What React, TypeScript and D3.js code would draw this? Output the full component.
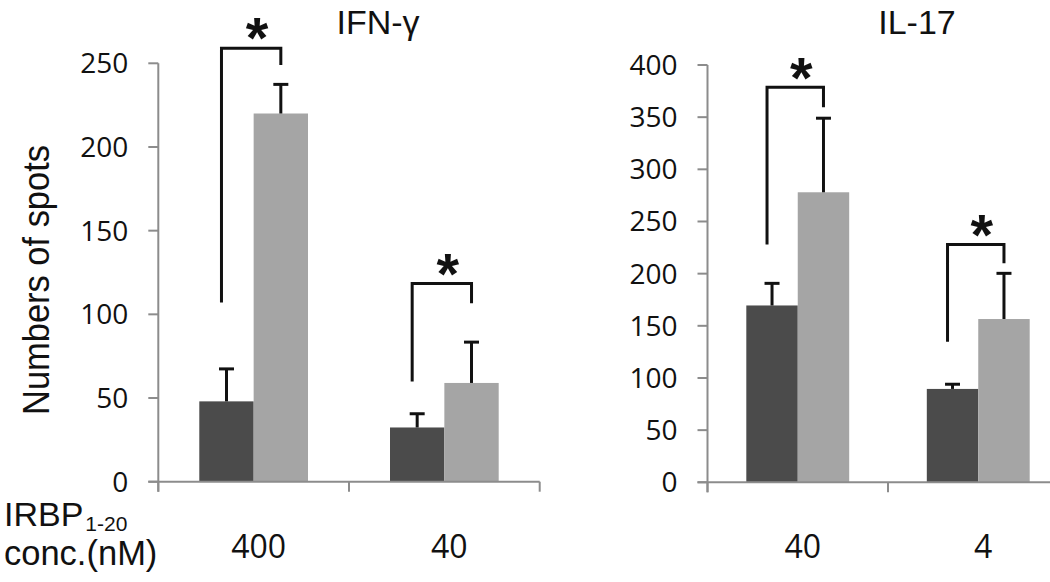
import React from "react";
import * as d3 from "d3";

// ---- data ----
const ifnCategories = ["400", "40"];
const ifnDark = [48, 32.4];
const ifnDarkErr = [19.4, 8.2];
const ifnLight = [220, 59];
const ifnLightErr = [17.4, 24.4];
const ifnTicks = [0, 50, 100, 150, 200, 250];
// significance brackets: [leftLegBottom, top, rightLegBottom] in data units
const ifnBrackets = [
  [107, 259, 249],
  [59.8, 118.5, 106.6],
];

const il17Categories = ["40", "4"];
const il17Dark = [169.5, 89.5];
const il17DarkErr = [21.2, 4.5];
const il17Light = [278, 156.5];
const il17LightErr = [71, 43.8];
const il17Ticks = [0, 50, 100, 150, 200, 250, 300, 350, 400];
const il17Brackets = [
  [228, 378.6, 359.5],
  [134.8, 228, 210],
];

const titles = ["IFN-γ", "IL-17"];

// ---- style ----
const W = 1050;
const H = 582;
const NUM_FONT = "'Open Sans', sans-serif";
const TXT_FONT = "'Liberation Sans', Arial, sans-serif";
const DARK = "#4b4b4b";
const LIGHT = "#a5a5a5";
const AXIS = "#8c8c8c";
const INK = "#111111";

type PanelProps = {
  title: string;
  categories: string[];
  dark: number[];
  darkErr: number[];
  light: number[];
  lightErr: number[];
  ticks: number[];
  brackets: number[][];
  xRange: [number, number];
  yRange: [number, number];
  yMax: number;
};

function Panel(p: PanelProps) {
  const x = d3.scaleBand<string>().domain(p.categories).range(p.xRange).padding(0);
  const bw = x.bandwidth();
  const sub = d3
    .scaleBand<string>()
    .domain(["dark", "light"])
    .range([bw * 0.215, bw * 0.785])
    .padding(0);
  const y = d3.scaleLinear().domain([0, p.yMax]).range(p.yRange);
  const x0 = p.xRange[0];
  const x1 = p.xRange[1];
  const y0 = y(0);
  const sw = sub.bandwidth();
  const center = (c: string, s: string) => (x(c) as number) + (sub(s) as number) + sw / 2;
  const series = [
    { key: "dark", vals: p.dark, errs: p.darkErr, color: DARK },
    { key: "light", vals: p.light, errs: p.lightErr, color: LIGHT },
  ];
  const boundaries = [...p.categories.map((c) => x(c) as number), x1];
  const starSize = 58;

  return (
    <g>
      {/* title */}
      <text
        x={(x0 + x1) / 2 + 29}
        y={34}
        textAnchor="middle"
        fontFamily={TXT_FONT}
        fontSize={34}
        fill={INK}
      >
        {p.title}
      </text>

      {/* bars */}
      {series.map((s) =>
        p.categories.map((c, i) => (
          <rect
            key={s.key + c}
            x={(x(c) as number) + (sub(s.key) as number)}
            width={sw}
            y={y(s.vals[i])}
            height={y0 - y(s.vals[i])}
            fill={s.color}
          />
        ))
      )}

      {/* axes */}
      <line x1={x0} x2={x0} y1={y(p.yMax)} y2={y0 + 10} stroke={AXIS} strokeWidth={2} />
      <line x1={x0 - 10} x2={x1} y1={y0} y2={y0} stroke={AXIS} strokeWidth={2} />
      {p.ticks.map((t) => (
        <g key={"t" + t}>
          <line x1={x0 - 10} x2={x0} y1={y(t)} y2={y(t)} stroke={AXIS} strokeWidth={2} />
          <text
            x={x0 - 30}
            y={y(t) + 10}
            textAnchor="end"
            fontFamily={NUM_FONT}
            fontSize={28}
            fill={INK}
          >
            {t}
          </text>
        </g>
      ))}
      {boundaries.map((b, i) => (
        <line key={"b" + i} x1={b} x2={b} y1={y0} y2={y0 + 10} stroke={AXIS} strokeWidth={2} />
      ))}
      {p.categories.map((c) => (
        <text
          key={"c" + c}
          x={(x(c) as number) + bw / 2 + 5}
          y={558}
          textAnchor="middle"
          fontFamily={NUM_FONT}
          fontSize={32}
          fill={INK}
        >
          {c}
        </text>
      ))}

      {/* error bars */}
      {series.map((s) =>
        p.categories.map((c, i) => {
          const cx = center(c, s.key);
          const top = y(s.vals[i] + s.errs[i]);
          return (
            <g key={"e" + s.key + c}>
              <line x1={cx} x2={cx} y1={y(s.vals[i])} y2={top} stroke={INK} strokeWidth={3} />
              <line x1={cx - 7.5} x2={cx + 7.5} y1={top} y2={top} stroke={INK} strokeWidth={3} />
            </g>
          );
        })
      )}

      {/* significance brackets */}
      {p.brackets.map((b, i) => {
        const c = p.categories[i];
        const lx = center(c, "dark") - 5;
        const rx = center(c, "light");
        const ty = y(b[1]);
        return (
          <g key={"s" + i}>
            <path
              d={`M${lx},${y(b[0])}V${ty}H${rx}V${y(b[2])}`}
              fill="none"
              stroke={INK}
              strokeWidth={3}
            />
            <text
              x={(lx + rx) / 2 + 6}
              y={ty - 23 + starSize * 0.573}
              textAnchor="middle"
              fontFamily={TXT_FONT}
              fontWeight="bold"
              fontSize={starSize}
              fill={INK}
            >
              *
            </text>
          </g>
        );
      })}
    </g>
  );
}

export default function App() {
  return (
    <svg
      width={W}
      height={H}
      style={{ position: "absolute", left: 0, top: 0, background: "#fff" }}
    >
      <rect x={0} y={0} width={W} height={H} fill="#fff" />
      <Panel
        title={titles[0]}
        categories={ifnCategories}
        dark={ifnDark}
        darkErr={ifnDarkErr}
        light={ifnLight}
        lightErr={ifnLightErr}
        ticks={ifnTicks}
        brackets={ifnBrackets}
        xRange={[158.3, 539.7]}
        yRange={[481.7, 63.3]}
        yMax={250}
      />
      <Panel
        title={titles[1]}
        categories={il17Categories}
        dark={il17Dark}
        darkErr={il17DarkErr}
        light={il17Light}
        lightErr={il17LightErr}
        ticks={il17Ticks}
        brackets={il17Brackets}
        xRange={[707.5, 1068.5]}
        yRange={[482.3, 65]}
        yMax={400}
      />
      {/* y-axis label */}
      <text
        transform="translate(49,415) rotate(-90)"
        textAnchor="start"
        fontFamily={TXT_FONT}
        fontSize={37}
        textLength={270}
        lengthAdjust="spacingAndGlyphs"
        fill={INK}
      >
        Numbers of spots
      </text>
      {/* x-axis caption */}
      <text x={4} y={526} fontFamily={TXT_FONT} fontSize={34} fill={INK}>
        IRBP
        <tspan dx={2} dy={5} fontSize={21}>
          1-20
        </tspan>
      </text>
      <text x={4} y={565} fontFamily={TXT_FONT} fontSize={34.5} fill={INK}>
        conc.(nM)
      </text>
    </svg>
  );
}
